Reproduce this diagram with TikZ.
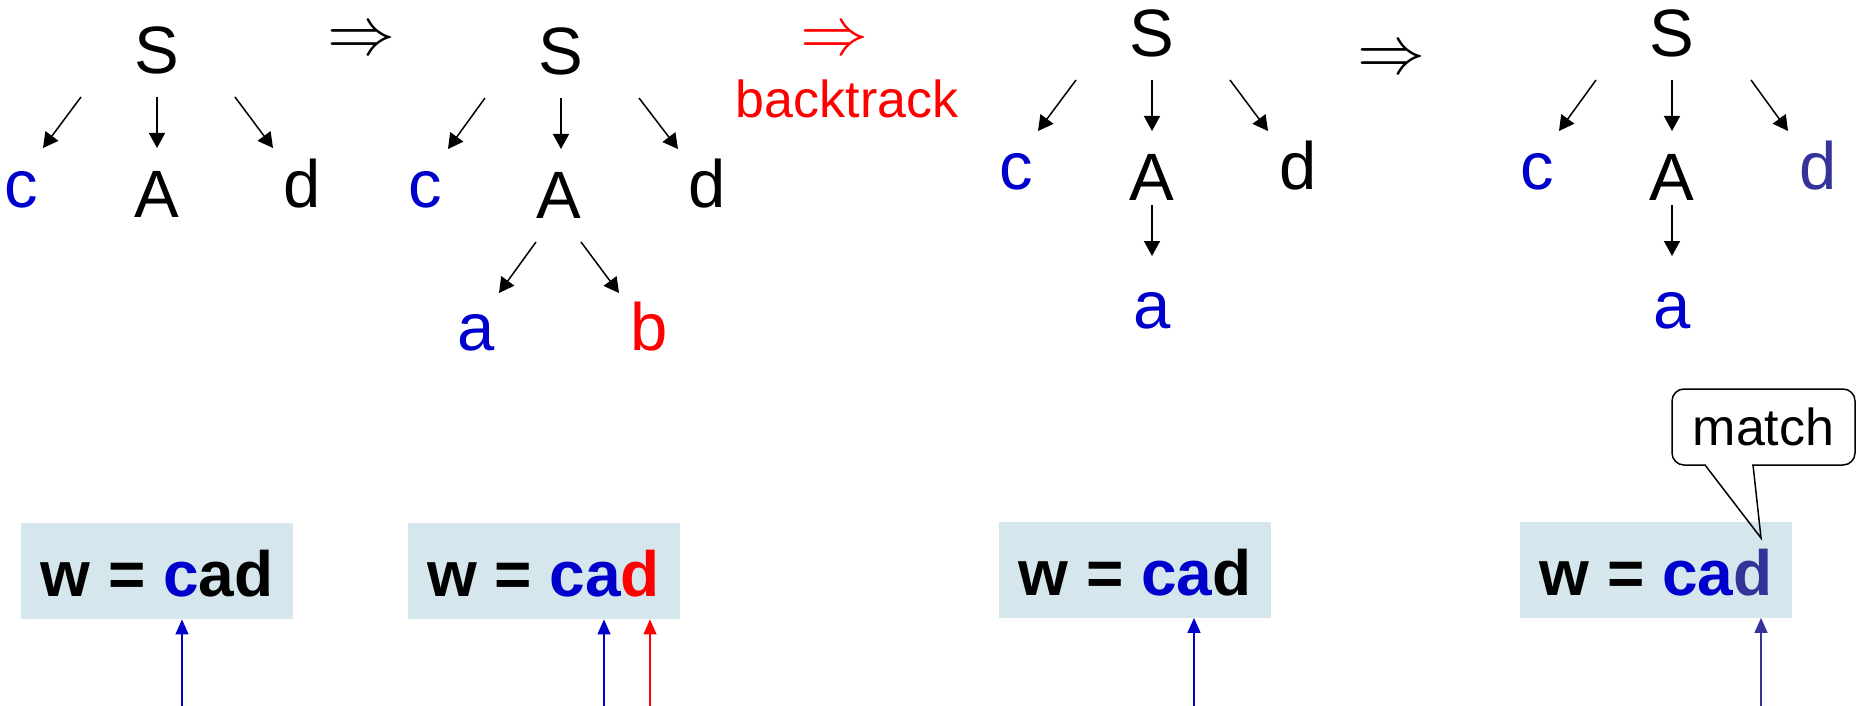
\RequirePackage{fix-cm}
\documentclass[tikz,border=0pt]{standalone}
\usepackage{fontspec}
\setmainfont{Liberation Sans}
\usetikzlibrary{arrows.meta}
\definecolor{tblue}{RGB}{0,0,204}
\definecolor{tred}{RGB}{255,0,0}
\definecolor{tnavy}{RGB}{51,51,153}
\definecolor{boxfill}{RGB}{213,231,236}
\tikzset{
  sym/.style={inner sep=0pt, anchor=base, font=\fontsize{33.5}{40}\selectfont},
  edge/.style={line width=0.75pt, -{Triangle[length=7.5pt,width=8pt]}},
  word/.style={fill=boxfill, minimum width=136pt, minimum height=48pt, inner sep=0pt,
    text height=25.5pt, text depth=0pt, font=\bfseries\fontsize{32}{38}\selectfont},
  pointer/.style={line width=0.65pt, -{Triangle[length=7.5pt,width=6.5pt]}},
  derive/.style={inner sep=0pt, font=\fontsize{34}{40}\selectfont},
  note/.style={inner sep=0pt, anchor=base, font=\fontsize{26}{31}\selectfont},
  bubble/.style={draw, line width=0.75pt, rounded corners=6pt, fill=white,
    minimum width=91.5pt, minimum height=38pt, inner sep=0pt,
    font=\fontsize{26}{31}\selectfont},
}
\begin{document}
\begin{tikzpicture}[x=0.5pt,y=-0.5pt]
\useasboundingbox (0,0) rectangle (1857,706);

% ---------- first derivation step ----------
\node[sym] (s1) at (157,74) {S};
\node[sym, text=tblue] (c1) at (21,207) {c};
\node[sym] (A1) at (157,217) {A};
\node[sym] (d1) at (302,207) {d};
\coordinate (s1c) at (81,97);   \coordinate (c1t) at (43,148);
\coordinate (s1a) at (157,97);  \coordinate (A1t) at (157,148);
\coordinate (s1d) at (235,97);  \coordinate (d1t) at (273,148);
\draw[edge] (s1c) -- (c1t);
\draw[edge] (s1a) -- (A1t);
\draw[edge] (s1d) -- (d1t);

\node[derive] (r1) at (361,42) {$\Rightarrow$};

% ---------- second step: A -> ab ----------
\node[sym] (s2) at (561,75) {S};
\node[sym, text=tblue] (c2) at (425,207) {c};
\node[sym] (A2) at (559,218) {A};
\node[sym] (d2) at (707,207) {d};
\node[sym, text=tblue] (a2) at (476,350) {a};
\node[sym, text=tred] (b2) at (649,350) {b};
\coordinate (s2c) at (485,98);  \coordinate (c2t) at (448,149);
\coordinate (s2a) at (561,98);  \coordinate (A2t) at (561,149);
\coordinate (s2d) at (639,98);  \coordinate (d2t) at (678,149);
\coordinate (A2a) at (536,242); \coordinate (a2t) at (499,293);
\coordinate (A2b) at (581,242); \coordinate (b2t) at (619,293);
\draw[edge] (s2c) -- (c2t);
\draw[edge] (s2a) -- (A2t);
\draw[edge] (s2d) -- (d2t);
\draw[edge] (A2a) -- (a2t);
\draw[edge] (A2b) -- (b2t);

\node[derive, text=tred] (r2) at (834,42) {$\Rightarrow$};
\node[note, text=tred] (bt) at (847,118) {backtrack};

% ---------- third step: A -> a ----------
\node[sym] (s3) at (1152,57) {S};
\node[sym, text=tblue] (c3) at (1016,189) {c};
\node[sym] (A3) at (1152,200) {A};
\node[sym] (d3) at (1298,189) {d};
\node[sym, text=tblue] (a3) at (1152,328) {a};
\coordinate (s3c) at (1076,80);  \coordinate (c3t) at (1038,131);
\coordinate (s3a) at (1152,80);  \coordinate (A3t) at (1152,131);
\coordinate (s3d) at (1230,80);  \coordinate (d3t) at (1268,131);
\coordinate (A3a) at (1152,205); \coordinate (a3t) at (1152,256);
\draw[edge] (s3c) -- (c3t);
\draw[edge] (s3a) -- (A3t);
\draw[edge] (s3d) -- (d3t);
\draw[edge] (A3a) -- (a3t);

\node[derive] (r3) at (1391,61) {$\Rightarrow$};

% ---------- fourth step: d matched ----------
\node[sym] (s4) at (1672,57) {S};
\node[sym, text=tblue] (c4) at (1537,189) {c};
\node[sym] (A4) at (1672,200) {A};
\node[sym, text=tnavy] (d4) at (1818,189) {d};
\node[sym, text=tblue] (a4) at (1672,328) {a};
\coordinate (s4c) at (1596,80);  \coordinate (c4t) at (1559,131);
\coordinate (s4a) at (1672,80);  \coordinate (A4t) at (1672,131);
\coordinate (s4d) at (1751,80);  \coordinate (d4t) at (1788,131);
\coordinate (A4a) at (1672,205); \coordinate (a4t) at (1672,256);
\draw[edge] (s4c) -- (c4t);
\draw[edge] (s4a) -- (A4t);
\draw[edge] (s4d) -- (d4t);
\draw[edge] (A4a) -- (a4t);

% ---------- input string with read pointers ----------
\node[word] (w1) at (157,571)    {w = \textcolor{tblue}{c}ad};
\node[word] (w2) at (543.5,571)  {w = \textcolor{tblue}{ca}\textcolor{tred}{d}};
\node[word] (w3) at (1135,569.5) {w = \textcolor{tblue}{ca}d};
\node[word] (w4) at (1656,569.5) {w = \textcolor{tblue}{ca}\textcolor{tnavy}{d}};

\coordinate (p1)  at (182,706);
\coordinate (p2a) at (604,706);
\coordinate (p2b) at (650,706);
\coordinate (p3)  at (1194,706);
\coordinate (p4)  at (1761,706);
\draw[pointer, tblue] (p1)  -- (p1 |- w1.south);
\draw[pointer, tblue] (p2a) -- (p2a |- w2.south);
\draw[pointer, tred]  (p2b) -- (p2b |- w2.south);
\draw[pointer, tblue] (p3)  -- (p3 |- w3.south);
\draw[pointer, tnavy] (p4)  -- (p4 |- w4.south);

% ---------- callout ----------
\node[bubble] (mt) at (1763.5,427) {match};
\coordinate (ml) at (1705,465);
\coordinate (mr) at (1753,465);
\coordinate (mtip) at (1761,538);
\draw[white, line width=1.6pt] ([xshift=0.5pt]ml) -- ([xshift=-0.5pt]mr);
\draw[line width=0.75pt, line join=miter] (ml) -- (mtip) -- (mr);
\end{tikzpicture}
\end{document}
